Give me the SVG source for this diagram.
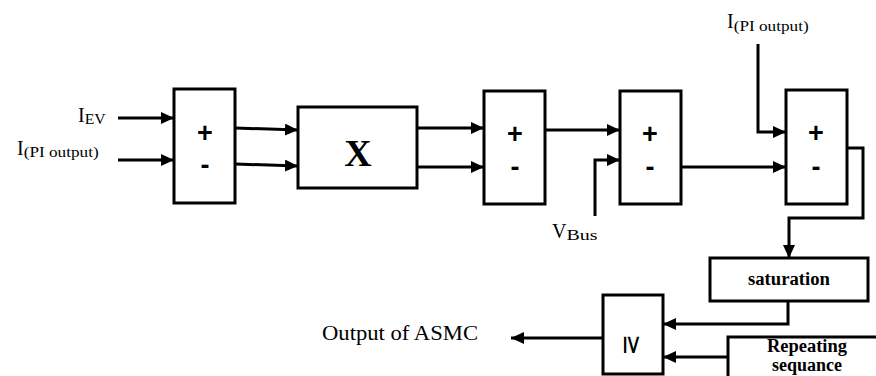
<svg xmlns="http://www.w3.org/2000/svg" width="876" height="376" viewBox="0 0 876 376">
<defs>
<marker id="ah" markerUnits="userSpaceOnUse" markerWidth="14" markerHeight="12" refX="13" refY="6" orient="auto">
<path d="M0,0 L13,6 L0,12 Z" fill="#000"/>
</marker>
<style>
.box{fill:#fff;stroke:#000;stroke-width:3}
.ln{fill:none;stroke:#000;stroke-width:3}
.arr{fill:none;stroke:#000;stroke-width:3;marker-end:url(#ah)}
.pm{font-family:"Liberation Sans",Arial,sans-serif;font-size:27px;font-weight:bold;text-anchor:middle}
.lab{font-family:"Liberation Serif","Times New Roman",serif;font-size:20px}
.sub{font-family:"Liberation Serif","Times New Roman",serif;font-size:14px}
.bt{font-family:"Liberation Serif","Times New Roman",serif;font-size:18px;font-weight:bold;text-anchor:middle}
</style>
</defs>
<rect width="876" height="376" fill="#fff"/>
<g id="connectors">
<path class="arr" d="M118,118 H174"/>
<path class="arr" d="M118,160 H174"/>
<path class="arr" d="M235,128 L298,130"/>
<path class="arr" d="M235,164 L298,166"/>
<path class="arr" d="M417,128 H484"/>
<path class="arr" d="M417,167 H484"/>
<path class="arr" d="M545,130 H620"/>
<path class="arr" d="M595,216 V160 H620"/>
<path class="arr" d="M681,167 H786"/>
<path class="arr" d="M758,44 V132 H786"/>
<path class="arr" d="M847,148 H863 V218 H789 V258"/>
<path class="arr" d="M788,301 V324 H663"/>
<path class="arr" d="M728,357 H663"/>
<path class="arr" d="M603,338 H511"/>
</g>
<g id="sum1">
<rect class="box" x="174" y="89" width="61" height="114"/>
<text class="pm" x="205" y="142">+</text>
<text class="pm" x="205" y="174">-</text>
</g>
<g id="mult">
<rect class="box" x="298" y="107" width="119" height="81"/>
<text x="358" y="166" font-family="Liberation Serif,'Times New Roman',serif" font-size="38" font-weight="bold" text-anchor="middle">X</text>
</g>
<g id="sum2">
<rect class="box" x="484" y="91" width="61" height="113"/>
<text class="pm" x="515" y="143">+</text>
<text class="pm" x="515" y="176">-</text>
</g>
<g id="sum3">
<rect class="box" x="620" y="91" width="61" height="113"/>
<text class="pm" x="650" y="143">+</text>
<text class="pm" x="650" y="176">-</text>
</g>
<g id="sum4">
<rect class="box" x="786" y="90" width="61" height="114"/>
<text class="pm" x="816" y="142">+</text>
<text class="pm" x="816" y="176">-</text>
</g>
<g id="saturation">
<rect class="box" x="710" y="258" width="158" height="43"/>
<text class="bt" x="789" y="285" textLength="82" lengthAdjust="spacingAndGlyphs">saturation</text>
</g>
<g id="compare">
<rect class="box" x="603" y="295" width="60" height="79"/>
<text x="633" y="345" font-family="DejaVu Sans,sans-serif" font-size="26" text-anchor="middle" dominant-baseline="central" transform="rotate(90 633 345)">≥</text>
</g>
<g id="repeating">
<rect class="box" x="728" y="337" width="160" height="50"/>
<text class="bt" x="807" y="352" textLength="80" lengthAdjust="spacingAndGlyphs">Repeating</text>
<text class="bt" x="807" y="371">sequance</text>
</g>
<g id="labels">
<text class="lab" x="78" y="122">I<tspan class="sub" dy="2" textLength="21" lengthAdjust="spacingAndGlyphs">EV</tspan></text>
<text class="lab" x="17" y="155">I<tspan class="sub" dy="2" textLength="75" lengthAdjust="spacingAndGlyphs">(PI output)</tspan></text>
<text class="lab" x="727" y="28">I<tspan class="sub" dy="3" textLength="75" lengthAdjust="spacingAndGlyphs">(PI output)</tspan></text>
<text class="lab" x="552" y="238">V<tspan class="sub" dy="2" textLength="31" lengthAdjust="spacingAndGlyphs">Bus</tspan></text>
<text class="lab" x="322" y="340" textLength="156" lengthAdjust="spacingAndGlyphs">Output of ASMC</text>
</g>
</svg>
